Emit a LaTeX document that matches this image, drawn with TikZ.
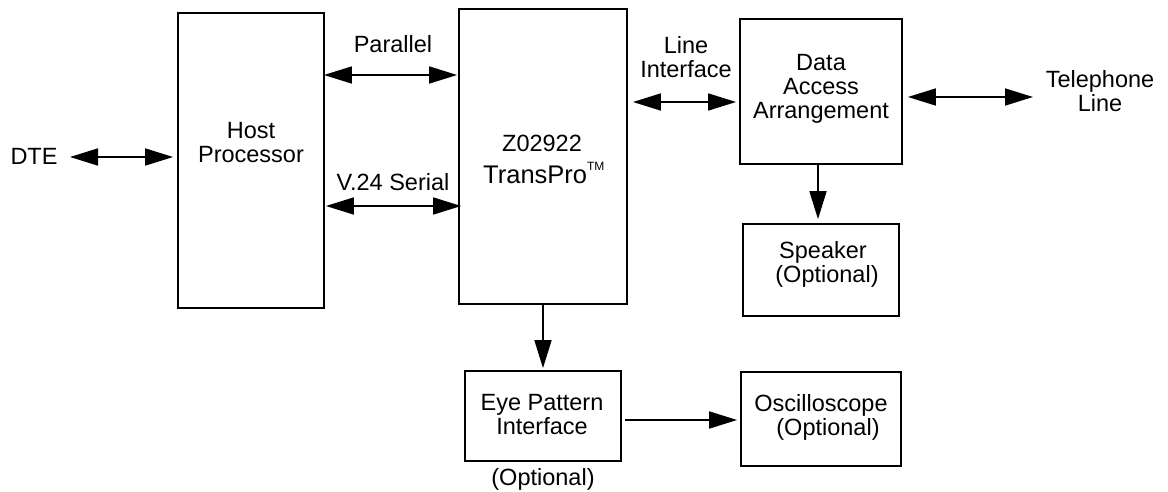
\documentclass[tikz,border=0pt]{standalone}
\usepackage{fontspec}
\setmainfont{Liberation Sans}
\usetikzlibrary{arrows.meta,calc}
\begin{document}
\begin{tikzpicture}[x=1pt,y=-1pt,
  box/.style={draw,line width=1.8pt,minimum width=#1,inner sep=0pt},
  txt/.style={inner sep=0pt,align=center,font=\fontsize{23.5}{24}\selectfont},
  conn/.style={line width=1.7pt,-{Triangle[length=28pt,width=17pt]}},
  dbl/.style={line width=1.7pt,{Triangle[length=28pt,width=17pt]}-{Triangle[length=28pt,width=17pt]}}]
\useasboundingbox (0,0) rectangle (1168,492);
% boxes
\node[box=146pt,minimum height=295pt] (host) at (251,160.5) {};
\node[box=168pt,minimum height=295pt] (tp) at (543,156.5) {};
\node[box=162pt,minimum height=145pt] (daa) at (821,91.5) {};
\node[box=156pt,minimum height=92pt] (spk) at (821,270) {};
\node[box=156pt,minimum height=90pt] (eye) at (543,416) {};
\node[box=160pt,minimum height=94pt] (osc) at (821,419) {};
% texts
\node[txt] (dtet) at (34,156) {DTE};
\node[txt] (hostt) at (251,143) {Host\\Processor};
\node[txt] (part) at (393,44) {Parallel};
\node[txt] (sert) at (393,182) {V.24 Serial};
\node[txt] (tpt1) at (542,143) {Z02922};
\node[txt,font=\fontsize{25.5}{26}\selectfont,anchor=west] (tpt2) at (483,173) {TransPro\raisebox{0.5em}{\fontsize{12}{12}\selectfont TM}};
\node[txt] (lit) at (686,57) {Line\\Interface};
\node[txt] (daat) at (821,89) {Data\\Access\\Arrangement};
\node[txt] (telt) at (1100,91) {Telephone\\Line};
\node[txt] (spkt) at (823,264) {Speaker\\\hspace*{8pt}(Optional)};
\node[txt] (eyet) at (542,415) {Eye Pattern\\Interface};
\node[txt] (eyeopt) at (543,479) {(Optional)};
\node[txt] (osct) at (821,417) {Oscilloscope\\\hspace*{14pt}(Optional)};
% connector y-levels
\coordinate (ydte) at (70,157);
\coordinate (ypar) at (0,75);
\coordinate (yser) at (0,206);
\coordinate (yli) at (0,102);
\coordinate (ytel) at (0,97);
\coordinate (yeo) at (0,420);
% connectors
\draw[dbl,shorten >=4pt] (ydte) -- (host.west |- ydte);
\draw[dbl,shorten <=-1pt,shorten >=1pt] (host.east |- ypar) -- (tp.west |- ypar);
\draw[dbl,shorten <=1pt,shorten >=-3pt] (host.east |- yser) -- (tp.west |- yser);
\draw[dbl,shorten <=5pt,shorten >=3pt] (tp.east |- yli) -- (daa.west |- yli);
\draw[dbl,shorten <=5pt] (daa.east |- ytel) -- (1033,97);
\draw[conn,shorten >=4pt] (daa.south -| 818,0) -- (spk.north -| 818,0);
\draw[conn,shorten >=2pt] (tp.south) -- (eye.north);
\draw[conn,shorten <=3pt,shorten >=3pt] (eye.east |- yeo) -- (osc.west |- yeo);
\end{tikzpicture}
\end{document}
